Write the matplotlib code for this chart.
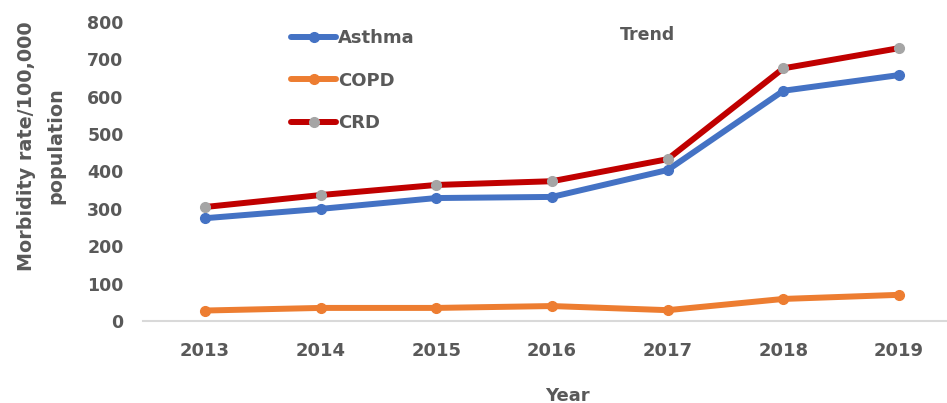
import matplotlib
matplotlib.use("Agg")
import matplotlib.pyplot as plt

years = ["2013", "2014", "2015", "2016", "2017", "2018", "2019"]
asthma = [275, 300, 329, 332, 404, 616, 658]
copd = [28, 35, 35, 40, 29, 59, 70]
crd = [305, 337, 364, 374, 433, 676, 730]
y_ticks = [0, 100, 200, 300, 400, 500, 600, 700, 800]

text_color = "#595959"
plt.rcParams["font.family"] = ["DejaVu Sans"]

fig = plt.figure(figsize=(9.47, 4.03), dpi=100)
ax = fig.add_axes([143 / 947, 82 / 403, 804 / 947, 299 / 403])

x = list(range(len(years)))
lw = 4.3
ax.plot(x, asthma, color="#4472C4", lw=lw, marker="o", ms=7,
        mfc="#4472C4", mec="#4472C4", label="Asthma", solid_capstyle="round")
ax.plot(x, copd, color="#ED7D31", lw=lw, marker="o", ms=7,
        mfc="#ED7D31", mec="#ED7D31", label="COPD", solid_capstyle="round")
ax.plot(x, crd, color="#C00000", lw=lw, marker="o", ms=7,
        mfc="#A5A5A5", mec="#A5A5A5", label="CRD", solid_capstyle="round")

ax.set_xlim(-0.536, 6.415)
ax.set_ylim(0, 800)
ax.set_xticks(x)
ax.set_xticklabels(years)
ax.set_yticks(y_ticks)

for side in ("top", "right", "left"):
    ax.spines[side].set_visible(False)
ax.spines["bottom"].set_color("#D9D9D9")
ax.spines["bottom"].set_linewidth(1.5)

ax.tick_params(axis="both", length=0, colors=text_color)
ax.tick_params(axis="x", pad=15, labelsize=13)
ax.tick_params(axis="y", pad=14, labelsize=12.5)
for lab in ax.get_xticklabels() + ax.get_yticklabels():
    lab.set_fontweight("bold")

# Two-line y-axis title, placed in figure coordinates
fig.text(41.5 / 947, 1 - 146 / 403, "Morbidity rate/100,000\npopulation",
         rotation=90, ha="center", va="center", fontsize=13.8,
         fontweight="bold", color=text_color, linespacing=1.7)

ax.set_xlabel("Year", fontsize=13, fontweight="bold", color=text_color)
ax.xaxis.set_label_coords(0.528, -0.22)

fig.text(647 / 947, 1 - 35 / 403, "Trend", fontsize=12.5, fontweight="bold",
         color=text_color, ha="center", va="center")

leg = ax.legend(loc="upper left", bbox_to_anchor=(141 / 804, 1.0),
                frameon=False, fontsize=13, handlelength=2.5,
                handletextpad=0.1, labelspacing=1.35, borderaxespad=0)
for t in leg.get_texts():
    t.set_color(text_color)
    t.set_fontweight("bold")

fig.savefig("out.png", dpi=100)
